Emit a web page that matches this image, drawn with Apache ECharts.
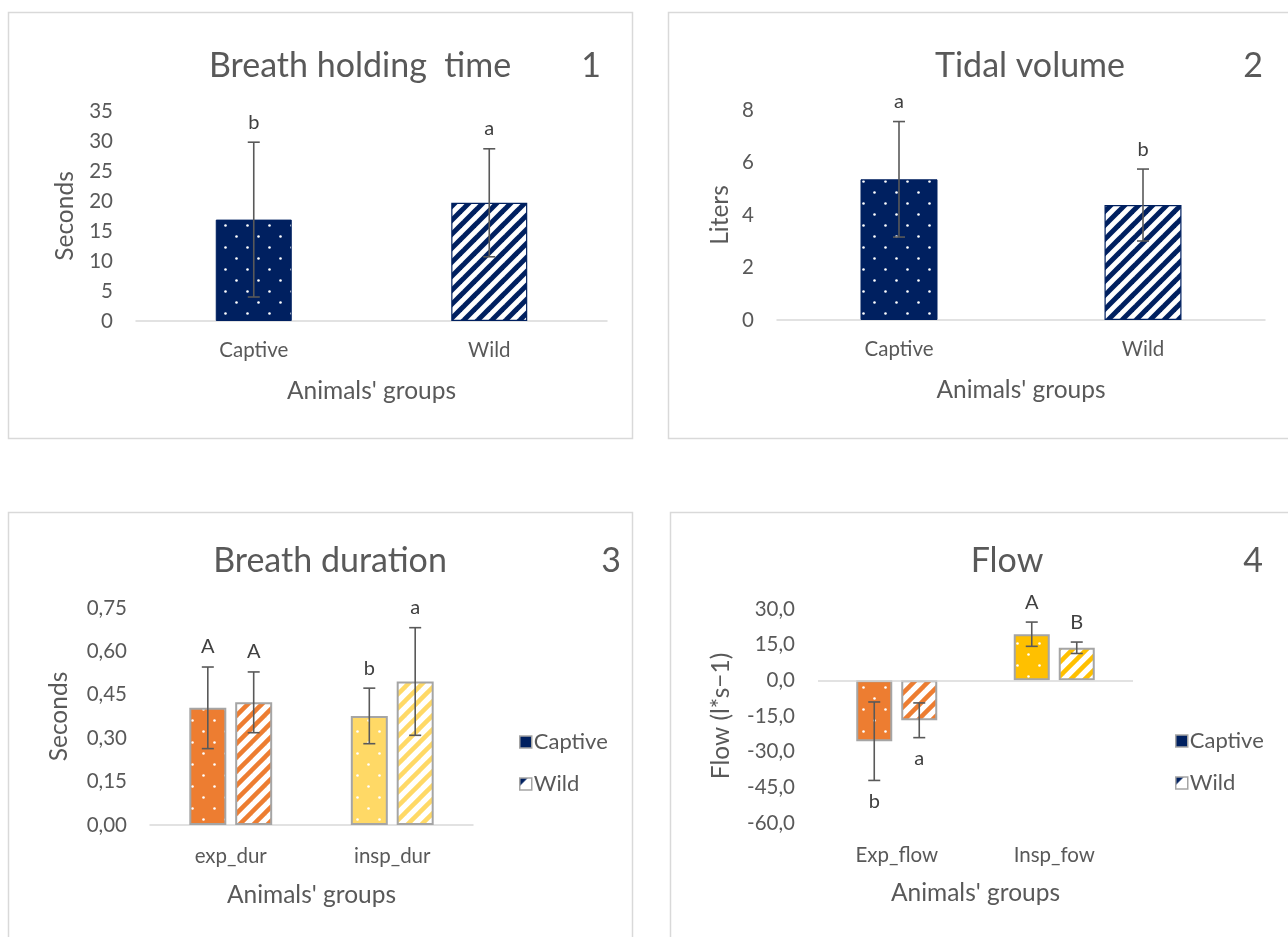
<!DOCTYPE html>
<html>
<head>
<meta charset="utf-8">
<script src="https://cdn.jsdelivr.net/npm/echarts@6/dist/echarts.min.js"></script>
<style>
  html, body { margin: 0; padding: 0; background: #ffffff; }
  #chart { width: 1288px; height: 937px; }
</style>
</head>
<body>
<div id="chart"></div>
<script>
// ---- Panel 1: breath holding time (seconds) ----
const holdGroups = ['Captive', 'Wild'];
const holdMean = [16.9, 19.7];
const holdSd = [12.9, 9.0];
const holdLetters = ['b', 'a'];
const holdTicks = [0, 5, 10, 15, 20, 25, 30, 35];

// ---- Panel 2: tidal volume (liters) ----
const tidalGroups = ['Captive', 'Wild'];
const tidalMean = [5.36, 4.38];
const tidalSd = [2.2, 1.37];
const tidalLetters = ['a', 'b'];
const tidalTicks = [0, 2, 4, 6, 8];

// ---- Panel 3: breath duration (seconds) ----
const durCategories = ['exp_dur', 'insp_dur'];
const durCaptive = [0.405, 0.377];
const durCaptiveSd = [0.141, 0.096];
const durCaptiveLetters = ['A', 'b'];
const durWild = [0.424, 0.496];
const durWildSd = [0.105, 0.186];
const durWildLetters = ['A', 'a'];
const durTicks = [0, 0.15, 0.30, 0.45, 0.60, 0.75];

// ---- Panel 4: flow (l*s-1) ----
const flowCategories = ['Exp_flow', 'Insp_fow'];
const flowCaptive = [-25.6, 19.4];
const flowCaptiveSd = [16.5, 5.1];
const flowCaptiveLetters = ['b', 'A'];
const flowWild = [-16.8, 13.7];
const flowWildSd = [7.3, 2.4];
const flowWildLetters = ['a', 'B'];
const flowTicks = [-60, -45, -30, -15, 0, 15, 30];

const seriesNames = ['Captive', 'Wild'];

// ---- styling ----
const FONT = 'Lato, "Open Sans", sans-serif';
const TEXT = '#595959';
const NAVY = '#002060';
const ORANGE = '#ED7D31';
const PALE_YELLOW = '#FFD966';
const GOLD = '#FFC000';
const EDGE = '#A5A5A5';
const AXIS = '#D9D9D9';
const TICK_SIZE = 20.5;
const NAME_SIZE = 24.5;
const TITLE_SIZE = 34;
const LETTER_SIZE = 20;

// white dots on a solid fill, staggered rows
function dotPattern(bg) {
  const c = document.createElement('canvas');
  c.width = 22; c.height = 22;
  const g = c.getContext('2d');
  g.fillStyle = bg; g.fillRect(0, 0, 22, 22);
  g.fillStyle = '#ffffff';
  [[5.5, 5.5], [16.5, 16.5]].forEach(([x, y]) => {
    g.beginPath(); g.arc(x, y, 1.3, 0, Math.PI * 2); g.fill();
  });
  return { image: c, repeat: 'repeat' };
}

// coloured "/" stripes on white
function stripePattern(fg, period, width) {
  const c = document.createElement('canvas');
  c.width = period; c.height = period;
  const g = c.getContext('2d');
  g.fillStyle = '#ffffff'; g.fillRect(0, 0, period, period);
  g.strokeStyle = fg; g.lineWidth = width;
  for (let k = 0; k <= 2; k++) {
    const s = k * period;
    g.beginPath();
    g.moveTo(s - period * 2, period * 2);
    g.lineTo(s + period * 2, -period * 2);
    g.stroke();
  }
  return { image: c, repeat: 'repeat' };
}

// small legend swatch: white with a navy corner
function wildSwatch() {
  const c = document.createElement('canvas');
  c.width = 12; c.height = 12;
  const g = c.getContext('2d');
  g.fillStyle = '#ffffff'; g.fillRect(0, 0, 12, 12);
  g.fillStyle = NAVY;
  g.beginPath(); g.moveTo(0, 0); g.lineTo(8, 0); g.lineTo(0, 8); g.closePath(); g.fill();
  return { image: c, repeat: 'no-repeat' };
}

const navyDots = { color: dotPattern(NAVY), borderColor: NAVY, borderWidth: 1 };
const navyStripes = { color: stripePattern(NAVY, 14, 5), borderColor: NAVY, borderWidth: 1.2 };

function stepOf(ticks) { return ticks[1] - ticks[0]; }

function commaFmt(digits) {
  return v => v.toFixed(digits).replace('.', ',');
}

// error bars plus significance letters, drawn on the axes of one grid
function errorSeries(gi, means, sds, letters, offset) {
  return {
    type: 'custom',
    xAxisIndex: gi,
    yAxisIndex: gi,
    z: 10,
    silent: true,
    clip: false,
    data: means.map((m, i) => [i, m - sds[i], m + sds[i]]),
    encode: { x: 0, y: [1, 2] },
    renderItem(params, api) {
      const i = api.value(0);
      const lo = api.coord([i, api.value(1)]);
      const hi = api.coord([i, api.value(2)]);
      const x = lo[0] + offset;
      const cap = 6;
      const st = { stroke: TEXT, lineWidth: 1.6 };
      const below = means[params.dataIndex] < 0;
      return {
        type: 'group',
        children: [
          { type: 'line', shape: { x1: x, y1: lo[1], x2: x, y2: hi[1] }, style: st },
          { type: 'line', shape: { x1: x - cap, y1: lo[1], x2: x + cap, y2: lo[1] }, style: st },
          { type: 'line', shape: { x1: x - cap, y1: hi[1], x2: x + cap, y2: hi[1] }, style: st },
          {
            type: 'text',
            x: x,
            y: below ? lo[1] + 21 : hi[1] - 20,
            style: {
              text: letters[params.dataIndex],
              fill: '#404040',
              font: LETTER_SIZE + 'px ' + FONT,
              align: 'center',
              verticalAlign: 'middle'
            }
          }
        ]
      };
    }
  };
}

// category axis; with onZero=false the labels and line sit at the grid bottom
function categoryAxis(gi, cats, labelMargin, onZero) {
  return {
    type: 'category',
    gridIndex: gi,
    data: cats,
    axisLine: { show: onZero, onZero: onZero, lineStyle: { color: AXIS, width: 1.5 } },
    axisTick: { show: false },
    axisLabel: { color: TEXT, fontSize: TICK_SIZE, fontFamily: FONT, margin: labelMargin },
    name: "Animals' groups",
    nameLocation: 'middle',
    nameGap: 58,
    nameTextStyle: { color: TEXT, fontSize: NAME_SIZE, fontFamily: FONT }
  };
}

function valueAxis(gi, ticks, name, gap, fmt) {
  return {
    type: 'value',
    gridIndex: gi,
    min: ticks[0],
    max: ticks[ticks.length - 1],
    interval: stepOf(ticks),
    splitLine: { show: false },
    axisLine: { show: false },
    axisTick: { show: false },
    axisLabel: { color: TEXT, fontSize: TICK_SIZE, fontFamily: FONT, margin: 23, formatter: fmt },
    name: name,
    nameLocation: 'middle',
    nameRotate: 90,
    nameGap: gap,
    nameTextStyle: { color: TEXT, fontSize: NAME_SIZE, fontFamily: FONT }
  };
}

const p3BarW = 37, p3Gap = 0.24;
const p4BarW = 36, p4Gap = 0.25;
const p3Off = (p3BarW * (1 + p3Gap)) / 2;
const p4Off = (p4BarW * (1 + p4Gap)) / 2;

const greyEdge = { borderColor: EDGE, borderWidth: 2 };

function legendBlock(left, top) {
  return {
    orient: 'vertical',
    left: left,
    top: top,
    itemWidth: 12,
    itemHeight: 12,
    itemGap: 20,
    selectedMode: false,
    textStyle: { color: TEXT, fontSize: 22, fontFamily: FONT, padding: [0, 0, 0, -3] },
    data: [
      { name: seriesNames[0], icon: 'rect', itemStyle: { color: NAVY, borderColor: EDGE, borderWidth: 1.5 } },
      { name: seriesNames[1], icon: 'rect', itemStyle: { color: wildSwatch(), borderColor: EDGE, borderWidth: 1.5 } }
    ]
  };
}

function titleText(x, y, text) {
  return {
    type: 'text', x: x, y: y,
    style: { text: text, fill: TEXT, font: TITLE_SIZE + 'px ' + FONT, align: 'center', verticalAlign: 'middle' }
  };
}

function frame(x, y, w, h) {
  return {
    type: 'rect',
    shape: { x: x, y: y, width: w, height: h },
    style: { fill: 'none', stroke: AXIS, lineWidth: 1.5 },
    silent: true
  };
}

// horizontal zero line for the flow panel (category labels stay at the bottom)
const zeroLine = {
  silent: true,
  symbol: 'none',
  label: { show: false },
  lineStyle: { color: AXIS, width: 1.5, type: 'solid' },
  data: [{ yAxis: 0 }]
};

const option = {
  backgroundColor: '#ffffff',
  animation: false,
  textStyle: { fontFamily: FONT },
  graphic: [
    frame(8.5, 12.5, 624, 426),
    frame(668.5, 12.5, 640, 426),
    frame(8.5, 512.5, 624, 460),
    frame(670.5, 512.5, 640, 460),
    titleText(360, 66, 'Breath holding  time'),
    titleText(591, 66, '1'),
    titleText(1030, 66, 'Tidal volume'),
    titleText(1253, 66, '2'),
    titleText(330, 561, 'Breath duration'),
    titleText(611, 561, '3'),
    titleText(1007, 561, 'Flow'),
    titleText(1253, 561, '4')
  ],
  legend: [legendBlock(514, 726), legendBlock(1170, 725)],
  grid: [
    { left: 136, top: 111, width: 471, height: 210, outerBoundsMode: 'none' },
    { left: 777, top: 110, width: 488, height: 210, outerBoundsMode: 'none' },
    { left: 150, top: 608, width: 323, height: 217, outerBoundsMode: 'none' },
    { left: 818, top: 609, width: 315, height: 214, outerBoundsMode: 'none' }
  ],
  xAxis: [
    categoryAxis(0, holdGroups, 19, true),
    categoryAxis(1, tidalGroups, 19, true),
    categoryAxis(2, durCategories, 21, true),
    categoryAxis(3, flowCategories, 22, false)
  ],
  yAxis: [
    valueAxis(0, holdTicks, 'Seconds', 58, v => String(v)),
    valueAxis(1, tidalTicks, 'Liters', 44, v => String(v)),
    valueAxis(2, durTicks, 'Seconds', 78, commaFmt(2)),
    valueAxis(3, flowTicks, 'Flow (l*s\u22121)', 84, commaFmt(1))
  ],
  series: [
    {
      type: 'bar', xAxisIndex: 0, yAxisIndex: 0, barWidth: 76,
      data: holdMean.map((v, i) => ({ value: v, itemStyle: i === 0 ? navyDots : navyStripes }))
    },
    errorSeries(0, holdMean, holdSd, holdLetters, 0),
    {
      type: 'bar', xAxisIndex: 1, yAxisIndex: 1, barWidth: 77,
      data: tidalMean.map((v, i) => ({ value: v, itemStyle: i === 0 ? navyDots : navyStripes }))
    },
    errorSeries(1, tidalMean, tidalSd, tidalLetters, 0),
    {
      name: seriesNames[0], type: 'bar', xAxisIndex: 2, yAxisIndex: 2,
      barWidth: p3BarW, barGap: (p3Gap * 100) + '%',
      itemStyle: { color: NAVY },
      data: durCaptive.map((v, i) => ({
        value: v,
        itemStyle: Object.assign({ color: dotPattern(i === 0 ? ORANGE : PALE_YELLOW) }, greyEdge)
      }))
    },
    {
      name: seriesNames[1], type: 'bar', xAxisIndex: 2, yAxisIndex: 2,
      barWidth: p3BarW, barGap: (p3Gap * 100) + '%',
      itemStyle: { color: NAVY },
      data: durWild.map((v, i) => ({
        value: v,
        itemStyle: Object.assign({ color: stripePattern(i === 0 ? ORANGE : PALE_YELLOW, 14, 4.5) }, greyEdge)
      }))
    },
    errorSeries(2, durCaptive, durCaptiveSd, durCaptiveLetters, -p3Off),
    errorSeries(2, durWild, durWildSd, durWildLetters, p3Off),
    {
      name: seriesNames[0], type: 'bar', xAxisIndex: 3, yAxisIndex: 3,
      barWidth: p4BarW, barGap: (p4Gap * 100) + '%',
      itemStyle: { color: NAVY },
      markLine: zeroLine,
      z: 1,
      data: flowCaptive.map((v, i) => ({
        value: v,
        itemStyle: Object.assign({ color: dotPattern(i === 0 ? ORANGE : GOLD) }, greyEdge)
      }))
    },
    {
      name: seriesNames[1], type: 'bar', xAxisIndex: 3, yAxisIndex: 3,
      barWidth: p4BarW, barGap: (p4Gap * 100) + '%',
      itemStyle: { color: NAVY },
      data: flowWild.map((v, i) => ({
        value: v,
        itemStyle: Object.assign({ color: stripePattern(i === 0 ? ORANGE : GOLD, 14, 4.5) }, greyEdge)
      }))
    },
    errorSeries(3, flowCaptive, flowCaptiveSd, flowCaptiveLetters, -p4Off),
    errorSeries(3, flowWild, flowWildSd, flowWildLetters, p4Off)
  ]
};

const chart = echarts.init(document.getElementById('chart'), null, { renderer: 'canvas' });
chart.setOption(option);
</script>
</body>
</html>
